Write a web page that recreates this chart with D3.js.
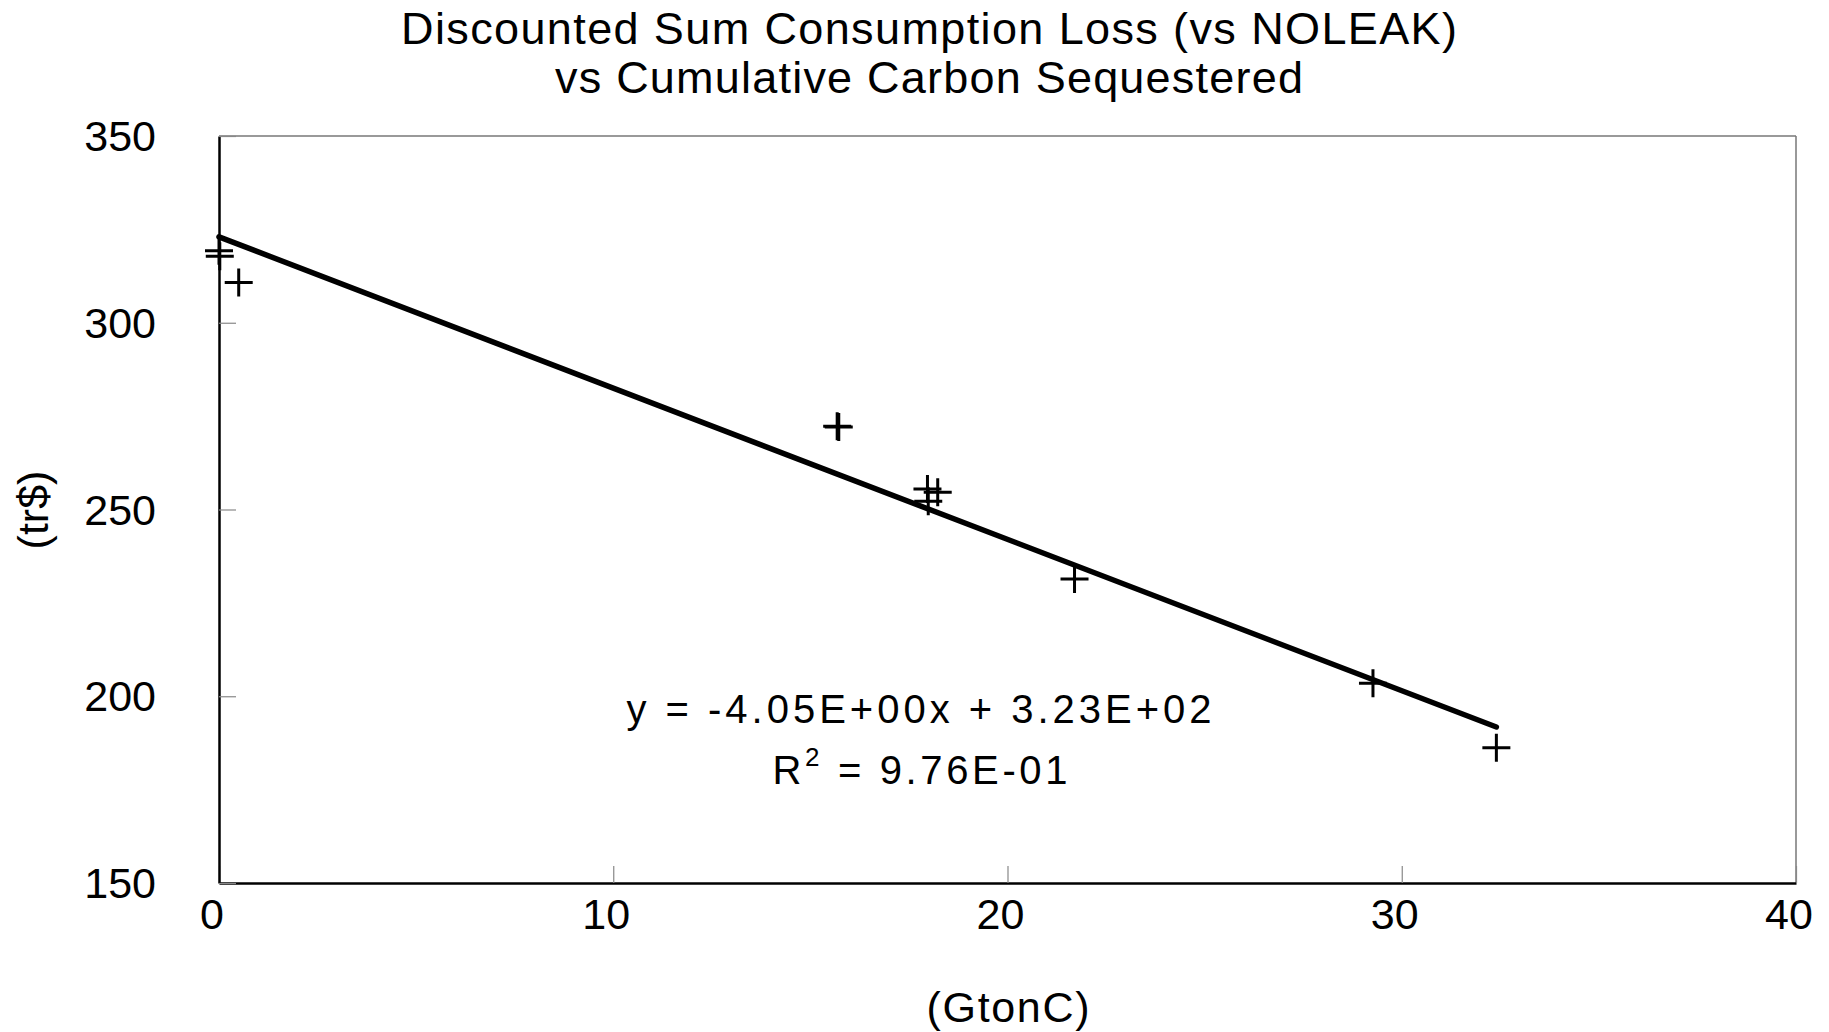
<!DOCTYPE html>
<html>
<head>
<meta charset="utf-8" />
<title>Consumption Loss vs Carbon Sequestered</title>
<script src="https://cdn.jsdelivr.net/npm/d3@7"></script>
<style>
  html, body { margin: 0; padding: 0; background: #fff; overflow: hidden; }
  svg { display: block; }
  text { font-family: "Liberation Sans", Arial, sans-serif; fill: #000; }
  .narrow { font-family: "Liberation Sans Narrow", "Liberation Sans", Arial, sans-serif; }
</style>
</head>
<body>
<svg width="1829" height="1032"></svg>
<script>
// cumulative carbon sequestered (GtonC) and discounted consumption loss (tr$)
let carbon = [0.0, 0.02, 0.5, 15.68, 15.72, 17.97, 18.23, 17.99, 21.7, 29.27, 32.4];
let loss   = [319.3, 317.8, 310.8, 272.3, 272.1, 255.5, 254.6, 252.2, 231.4, 203.5, 186.2];
let xTicks = [0, 10, 20, 30, 40];
let yTicks = [150, 200, 250, 300, 350];
let slope = -4.05, intercept = 323;
let titleLines = ["Discounted Sum Consumption Loss (vs NOLEAK)", "vs Cumulative Carbon Sequestered"];

let svg = d3.select("svg");
let margin = {top: 136, bottom: 149, left: 219, right: 33};
let width = +svg.attr("width"), height = +svg.attr("height");
let innerWidth = width - margin.left - margin.right;
let innerHeight = height - margin.top - margin.bottom;

let xScale = d3.scaleLinear().domain([0, 40]).range([0, innerWidth]);
let yScale = d3.scaleLinear().domain([150, 350]).range([innerHeight, 0]);

const g = svg.append("g").attr("transform", `translate(${margin.left},${margin.top})`);

// frame: top/right grey, left/bottom black
g.append("line").attr("x1", 0).attr("x2", innerWidth).attr("y1", 0).attr("y2", 0)
  .attr("stroke", "#777").attr("stroke-width", 1.5);
g.append("line").attr("x1", innerWidth).attr("x2", innerWidth).attr("y1", 0).attr("y2", innerHeight)
  .attr("stroke", "#777").attr("stroke-width", 1.5);

// axes: inward ticks, labels drawn separately below
const xAxisG = g.append("g").attr("transform", `translate(0,${innerHeight})`)
  .call(d3.axisBottom(xScale).tickValues(xTicks).tickSizeInner(-17).tickSizeOuter(0).tickFormat(""));
const yAxisG = g.append("g")
  .call(d3.axisLeft(yScale).tickValues(yTicks).tickSizeInner(-17).tickSizeOuter(0).tickFormat(""));

[xAxisG, yAxisG].forEach(a => {
  a.select(".domain").attr("stroke", "#000").attr("stroke-width", 2.5);
  a.selectAll(".tick line").attr("stroke", "#888").attr("stroke-width", 1.2);
  a.selectAll(".tick text").remove();
});

g.selectAll("text.xlab").data(xTicks).enter().append("text")
  .attr("class", "xlab")
  .attr("x", d => xScale(d) - 7).attr("y", innerHeight + 46)
  .attr("text-anchor", "middle").attr("font-size", 43)
  .text(d => d);
g.selectAll("text.ylab").data(yTicks).enter().append("text")
  .attr("class", "ylab")
  .attr("x", -63).attr("y", d => yScale(d) + 15)
  .attr("text-anchor", "end").attr("font-size", 43)
  .text(d => d);

// trend line
g.append("line")
  .attr("x1", xScale(0)).attr("y1", yScale(intercept))
  .attr("x2", xScale(d3.max(carbon))).attr("y2", yScale(intercept + slope * d3.max(carbon)))
  .attr("stroke", "#000").attr("stroke-width", 5.5).attr("stroke-linecap", "round");

// data markers (plus signs)
let pts = carbon.map((c, i) => ({x: c, y: loss[i]}));
let s = 14;
g.selectAll("path.pt").data(pts).enter().append("path")
  .attr("class", "pt")
  .attr("d", d => {
    let px = xScale(d.x), py = yScale(d.y);
    return `M${px - s},${py}H${px + s}M${px},${py - s}V${py + s}`;
  })
  .attr("stroke", "#000").attr("stroke-width", 3).attr("fill", "none");

// equation
g.append("text").attr("class", "narrow")
  .attr("x", 919 - margin.left).attr("y", 723 - margin.top)
  .attr("text-anchor", "middle").attr("font-size", 40)
  .attr("textLength", 585).attr("lengthAdjust", "spacing")
  .text("y =  -4.05E+00x + 3.23E+02");
let r2 = g.append("text").attr("class", "narrow")
  .attr("x", 920 - margin.left).attr("y", 784 - margin.top)
  .attr("text-anchor", "middle").attr("font-size", 40)
  .attr("textLength", 295).attr("lengthAdjust", "spacing");
r2.append("tspan").text("R");
r2.append("tspan").attr("font-size", 26).attr("dy", -18).text("2");
r2.append("tspan").attr("dy", 18).text(" = 9.76E-01");

// titles
let titleWidths = [1056, 748];
let titleY = [44, 93];
titleLines.forEach((t, i) => {
  svg.append("text").attr("class", "narrow")
    .attr("x", 929).attr("y", titleY[i])
    .attr("text-anchor", "middle").attr("font-size", 45)
    .attr("textLength", titleWidths[i]).attr("lengthAdjust", "spacing")
    .text(t);
});

// axis titles
svg.append("text").attr("class", "narrow")
  .attr("x", 1008).attr("y", 1022)
  .attr("text-anchor", "middle").attr("font-size", 43)
  .attr("textLength", 163).attr("lengthAdjust", "spacing")
  .text("(GtonC)");
svg.append("text").attr("class", "narrow")
  .attr("transform", "translate(48,510) rotate(-90)")
  .attr("text-anchor", "middle").attr("font-size", 43)
  .text("(tr$)");
</script>
</body>
</html>
